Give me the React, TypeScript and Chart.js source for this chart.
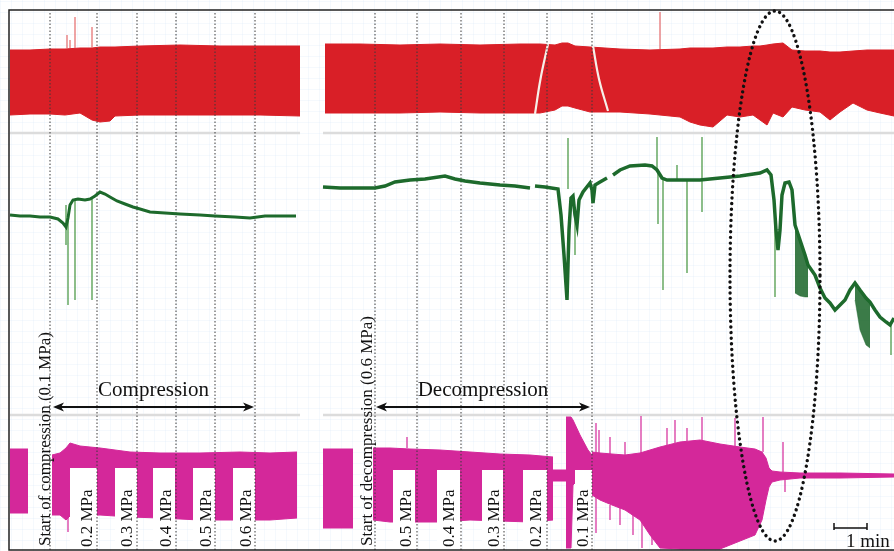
import React, { useEffect, useRef } from 'react';
import { Chart, registerables } from 'chart.js';
Chart.register(...registerables);

// x: time units (1 min = 3.3 units), y: stacked-channel amplitude units
const X_MAX = 89.4;
const Y_MAX = 551;

const RED = '#d91f27';
const GREEN = '#1d6a2c';
const GREEN_SPIKE = 'rgba(70,150,65,0.95)';
const MAGENTA = '#d4289a';

// ---- red channel (top) ----
const redLeftX = [1.0, 3.0, 5.0, 6.5, 8.0, 9.2, 10.0, 11.0, 11.5, 14.0, 18.0, 22.0, 26.0, 30.0];
const redLeftTop = [501, 501, 502, 502, 503, 503, 504, 504, 504, 505, 506, 505, 505, 505];
const redLeftBottom = [436, 437, 437, 436, 438, 431, 429, 430, 435, 436, 436, 436, 436, 435];

const redRightX = [32.5, 36.0, 40.0, 44.0, 48.0, 52.0, 54.0, 55.5, 56.2, 56.8, 57.5, 59.0, 62.0, 65.0, 68.0, 69.0, 70.0, 71.3, 72.7, 74.0, 75.3, 76.0, 76.7, 77.3, 78.3, 79.2, 80.5, 82.0, 83.0, 84.0, 85.3, 86.7, 88.0, 89.4];
const redRightTop = [507, 507, 506, 507, 506, 507, 507, 506, 508, 508, 505, 504, 502, 501, 502, 503, 503, 503, 504, 504, 505, 505, 506, 507, 508, 501, 500, 500, 499, 499, 500, 501, 501, 501];
const redRightBottom = [438, 438, 438, 439, 438, 438, 438, 441, 445, 445, 443, 439, 439, 437, 434, 429, 426, 424, 436, 434, 436, 431, 426, 438, 434, 444, 441, 439, 431, 439, 448, 441, 438, 435];

const redSpikeX = [6.7, 7.0, 7.5, 9.2, 66.0];
const redSpikeBase = [503, 503, 503, 503, 502];
const redSpikeTip = [516, 511, 534, 524, 539];

const whiteArc1X = [53.5, 54.05, 54.8];
const whiteArc1Y = [437, 472, 507];
const whiteArc2X = [59.3, 59.9, 60.8];
const whiteArc2Y = [505, 472, 440];

// ---- green channel (middle) ----
const greenLeftX = [1.0, 2.0, 3.0, 4.0, 5.0, 5.8, 6.3, 6.6, 6.8, 7.0, 7.3, 7.8, 8.5, 9.0, 9.5, 10.0, 10.5, 11.0, 11.7, 12.5, 13.3, 14.0, 15.0, 16.5, 18.0, 20.0, 21.5, 23.5, 25.0, 26.5, 28.0, 29.6];
const greenLeftY = [336, 335, 335, 334, 334, 332, 328, 324, 333, 346, 351, 352, 351, 352, 355, 359, 357, 354, 350, 347, 344, 342, 339, 338, 337, 336, 335, 334, 333, 335, 335, 335];

const greenRightX = [32.3, 34.0, 36.0, 37.5, 38.5, 39.5, 41.0, 42.5, 44.5, 45.5, 46.5, 48.0, 50.0, 51.5, 53.0, 53.2, 53.5, 54.5, 55.8, 56.1, 56.4, 56.7, 56.9, 57.1, 57.3, 57.5, 57.7, 57.9, 58.3, 59.0, 59.2, 59.3, 59.5, 60.0, 60.7, 61.0, 61.3, 62.0, 63.0, 64.5, 65.2, 65.7, 66.2, 66.7, 68.0, 70.0, 72.0, 74.0, 76.0, 76.7, 77.1, 77.4, 77.6, 77.8, 78.0, 78.2, 78.5, 78.9, 79.2, 79.5, 80.0, 80.5, 80.8, 81.5, 82.0, 82.5, 83.0, 83.5, 84.0, 84.5, 85.0, 85.5, 86.0, 86.6, 87.0, 87.5, 88.0, 88.6, 89.0, 89.4];
const greenRightY = [364, 363, 363, 363, 365, 369, 371, 372, 375, 372, 370, 368, 366, 365, 363, null, 365, 364, 362, 336, 296, 251, 321, 353, 355, 336, 326, 351, 359, 368, 361, 348, 366, 369, 373, null, 376, 381, 385, 386, 385, 381, 373, 371, 371, 371, 373, 375, 378, 381, 376, 351, 321, 301, 321, 356, 368, 369, 361, 326, 311, 296, 286, 276, 263, 253, 248, 241, 246, 251, 261, 268, 261, 253, 249, 241, 234, 229, 226, 233];

const greenSpikeX = [6.6, 6.8, 7.5, 9.2, 56.8, 57.5, 65.7, 65.8, 66.3, 67.7, 68.7, 70.2, 70.2, 77.5, 89.1];
const greenSpikeFrom = [346, 333, 351, 352, 362, 336, 381, 381, 373, 371, 371, 371, 371, 340, 226];
const greenSpikeTo = [306, 246, 251, 251, 413, 296, 414, 327, 261, 386, 278, 414, 339, 254, 196];

const greenBurstAX = [79.5, 80.0, 80.5, 80.8];
const greenBurstATop = [326, 311, 296, 286];
const greenBurstABottom = [258, 255, 254, 254];
const greenBurstBX = [85.5, 86.0, 86.6, 87.0];
const greenBurstBTop = [268, 261, 253, 249];
const greenBurstBBottom = [251, 221, 206, 203];

// ---- magenta channel (bottom) ----
const magAX = [1.0, 2.8];
const magATop = [102, 102];
const magABottom = [38, 38];
const magBX = [5.2, 6.0, 6.6, 7.0, 8.0, 10.0, 13.0, 16.0, 20.0, 24.0, 27.0, 29.7];
const magBTop = [96, 98, 103, 108, 105, 103, 99, 98, 98, 99, 98, 99];
const magBBottom = [36, 36, 31, 35, 35, 36, 34, 33, 31, 31, 31, 33];
const magCX = [32.3, 35.3];
const magCTop = [102, 102];
const magCBottom = [23, 23];
const magDX = [37.3, 39.0, 41.0, 44.0, 47.0, 50.0, 53.0, 55.3];
const magDTop = [103, 103, 102, 101, 99, 97, 96, 94];
const magDBottom = [31, 29, 29, 29, 31, 30, 29, 31];
const magEX = [55.3, 56.6];
const magETop = [81, 81];
const magEBottom = [70, 70];
const magFX = [56.6, 57.1, 57.3, 58.0, 58.8, 59.2];
const magFTop = [134, 134, 131, 116, 101, 96];
const magFBottom = [3, 3, 66, 73, 76, 71];
const magGX = [59.2, 60.0, 61.2, 62.5, 64.0, 65.0, 66.0, 68.0, 70.0, 72.0, 74.0, 75.5, 76.2, 76.6, 76.9, 77.2, 78.0, 80.0, 84.0, 89.4];
const magGTop = [99, 98, 97, 96, 98, 101, 104, 109, 111, 107, 104, 102, 99, 93, 83, 80, 79, 78, 78, 77];
const magGBottom = [56, 51, 46, 41, 31, 16, 3, 2, 2, 2, 10, 16, 31, 51, 64, 69, 71, 73, 73, 74];

const magSpikeX = [6.8, 40.7, 59.6, 59.6, 59.9, 61.0, 61.0, 62.0, 62.5, 63.3, 64.1, 64.2, 65.2, 66.7, 67.5, 68.7, 70.2, 73.5, 76.3, 78.3, 78.5];
const magSpikeFrom = [35, 103, 99, 56, 98, 97, 46, 44, 96, 41, 98, 31, 16, 104, 108, 110, 111, 104, 99, 79, 71];
const magSpikeTo = [19, 114, 128, 18, 121, 114, 31, 26, 109, 16, 135, 3, 6, 123, 131, 123, 134, 133, 134, 109, 59];

// pressure-step label boxes and labels
const stepStart = [7.0, 11.5, 15.3, 19.3, 23.3, 39.3, 43.7, 48.2, 52.3, 57.5];
const stepEnd = [9.7, 13.7, 17.5, 21.5, 25.5, 41.5, 46.0, 50.3, 54.7, 59.2];
const stepBoxTop = [83, 83, 83, 83, 83, 81, 81, 81, 81, 81];
const stepLabels = ['0.2 MPa', '0.3 MPa', '0.4 MPa', '0.5 MPa', '0.6 MPa', '0.5 MPa', '0.4 MPa', '0.3 MPa', '0.2 MPa', '0.1 MPa'];
const stepLabelX = [8.8, 12.8, 16.7, 20.7, 24.7, 40.7, 45.0, 49.5, 53.7, 58.4];

const markerX = [5.0, 9.7, 13.7, 17.6, 21.5, 25.5, 37.5, 41.7, 46.1, 50.4, 54.7, 59.2];

const phaseLabels = ['Compression', 'Decompression'];
const phaseFrom = [5.3, 37.6];
const phaseTo = [25.4, 59.0];
const phaseY = 144;
const phaseTextY = 161;

const startLabels = ['Start of compression (0.1 MPa)', 'Start of decompression (0.6 MPa)'];
const startLabelX = [4.6, 36.8];

const separatorY = [418, 136];
const panelStart = [1.0, 32.3];
const panelEnd = [30.0, X_MAX];

const scaleBarX = [83.4, 86.7];
const scaleBarY = 23;

const ellipseCenter = { x: 77.5, y: 275 };
const ellipseRadius = { x: 4.5, y: 265 };

const SERIF = '"Liberation Serif", "Times New Roman", serif';

function pts(xs: number[], ys: (number | null)[]) {
  return xs.map((x, i) => ({ x, y: ys[i] }));
}

function segments(xs: number[], from: number[], to: number[]) {
  const out: any[] = [];
  xs.forEach((x, i) => {
    out.push({ x, y: from[i] }, { x, y: to[i] }, { x, y: null });
  });
  return out;
}

function buildDatasets() {
  const ds: any[] = [];
  const band = (xs: number[], top: number[], bot: number[], color: string, edge = 1) => {
    ds.push({ data: pts(xs, top), borderColor: color, borderWidth: edge, fill: false });
    ds.push({ data: pts(xs, bot), borderColor: color, borderWidth: edge, backgroundColor: color, fill: '-1' });
  };
  // separators
  separatorY.forEach((y) => {
    panelStart.forEach((x0, i) => {
      ds.push({ data: [{ x: x0, y }, { x: panelEnd[i], y }], borderColor: '#dcdcdc', borderWidth: 2.5 });
    });
  });
  // red
  band(redLeftX, redLeftTop, redLeftBottom, RED);
  band(redRightX, redRightTop, redRightBottom, RED);
  ds.push({ data: segments(redSpikeX, redSpikeBase, redSpikeTip), borderColor: '#e56a6a', borderWidth: 1.2 });
  ds.push({ data: pts(whiteArc1X, whiteArc1Y), borderColor: '#f6efe9', borderWidth: 2.2, tension: 0.4 });
  ds.push({ data: pts(whiteArc2X, whiteArc2Y), borderColor: '#f6efe9', borderWidth: 2.2, tension: 0.4 });
  // magenta
  band(magAX, magATop, magABottom, MAGENTA);
  band(magBX, magBTop, magBBottom, MAGENTA);
  band(magCX, magCTop, magCBottom, MAGENTA);
  band(magDX, magDTop, magDBottom, MAGENTA);
  band(magEX, magETop, magEBottom, MAGENTA);
  band(magFX, magFTop, magFBottom, MAGENTA);
  band(magGX, magGTop, magGBottom, MAGENTA);
  ds.push({ data: segments(magSpikeX, magSpikeFrom, magSpikeTo), borderColor: MAGENTA, borderWidth: 1.2 });
  // step label boxes
  stepStart.forEach((x0, i) => {
    ds.push({
      data: [{ x: x0, y: stepBoxTop[i] }, { x: stepEnd[i], y: stepBoxTop[i] }],
      borderWidth: 0, borderColor: 'rgba(0,0,0,0)', backgroundColor: '#ffffff', fill: { value: 0 },
    });
  });
  // dotted markers
  const mk: any[] = [];
  markerX.forEach((x) => mk.push({ x, y: 1 }, { x, y: 540 }, { x, y: null }));
  ds.push({ data: mk, borderColor: '#3a3a3a', borderWidth: 1, borderDash: [1.5, 2] });
  // green
  band(greenBurstAX, greenBurstATop, greenBurstABottom, 'rgba(25,100,40,0.85)', 0.5);
  band(greenBurstBX, greenBurstBTop, greenBurstBBottom, 'rgba(25,100,40,0.85)', 0.5);
  ds.push({ data: segments(greenSpikeX, greenSpikeFrom, greenSpikeTo), borderColor: GREEN_SPIKE, borderWidth: 1.3 });
  ds.push({ data: pts(greenLeftX, greenLeftY), borderColor: GREEN, borderWidth: 3 });
  ds.push({ data: pts(greenRightX, greenRightY), borderColor: GREEN, borderWidth: 3.5 });
  // frame
  ds.push({
    data: [{ x: X_MAX, y: 541 }, { x: 0.9, y: 541 }, { x: 0.9, y: 1 }, { x: X_MAX, y: 1 }],
    borderColor: '#222', borderWidth: 1.5,
  });
  // scale bar
  ds.push({
    data: [
      { x: scaleBarX[0], y: scaleBarY + 5 }, { x: scaleBarX[0], y: scaleBarY - 2 }, { x: null, y: null },
      { x: scaleBarX[0], y: scaleBarY }, { x: scaleBarX[1], y: scaleBarY }, { x: null, y: null },
      { x: scaleBarX[1], y: scaleBarY + 5 }, { x: scaleBarX[1], y: scaleBarY - 2 },
    ],
    borderColor: '#111', borderWidth: 1.5,
  });
  ds.forEach((d, i) => {
    d.order = ds.length - i;
    d.pointRadius = 0;
    if (d.tension === undefined) d.tension = 0;
    if (d.fill === undefined) d.fill = false;
  });
  return ds;
}

const annotations = {
  id: 'annotations',
  beforeDatasetsDraw(chart: any) {
    const { ctx, scales } = chart;
    const xs = scales.x, ys = scales.y;
    ctx.save();
    ctx.strokeStyle = 'rgba(175,212,236,0.13)';
    ctx.lineWidth = 1;
    for (let v = 0; v <= X_MAX; v += 1.1) {
      const p = Math.round(xs.getPixelForValue(v)) + 0.5;
      ctx.beginPath(); ctx.moveTo(0 + p - p, 0); ctx.moveTo(p, 0); ctx.lineTo(p, chart.height); ctx.stroke();
    }
    for (let v = 0; v <= Y_MAX; v += 11) {
      const p = Math.round(ys.getPixelForValue(v)) + 0.5;
      ctx.beginPath(); ctx.moveTo(0, p); ctx.lineTo(chart.width, p); ctx.stroke();
    }
    ctx.restore();
  },
  afterDatasetsDraw(chart: any) {
    const { ctx, scales } = chart;
    const xs = scales.x, ys = scales.y;
    const X = (v: number) => xs.getPixelForValue(v);
    const Y = (v: number) => ys.getPixelForValue(v);
    ctx.save();
    // phase arrows + labels
    ctx.fillStyle = '#111';
    ctx.strokeStyle = '#111';
    ctx.font = `21px ${SERIF}`;
    ctx.textAlign = 'center';
    ctx.textBaseline = 'middle';
    phaseLabels.forEach((lab, i) => {
      const x0 = X(phaseFrom[i]), x1 = X(phaseTo[i]), y = Y(phaseY);
      ctx.lineWidth = 2;
      ctx.beginPath(); ctx.moveTo(x0 + 4, y); ctx.lineTo(x1 - 4, y); ctx.stroke();
      [[x0, 1], [x1, -1]].forEach(([xp, d]) => {
        ctx.beginPath();
        ctx.moveTo(xp, y);
        ctx.lineTo(xp + d * 11, y - 4.5);
        ctx.lineTo(xp + d * 8, y);
        ctx.lineTo(xp + d * 11, y + 4.5);
        ctx.closePath();
        ctx.fill();
      });
      ctx.fillText(lab, (x0 + x1) / 2, Y(phaseTextY));
    });
    // rotated labels
    const rot = (text: string, x: number, y: number, size: number) => {
      ctx.save();
      ctx.translate(x, y);
      ctx.rotate(-Math.PI / 2);
      ctx.font = `${size}px ${SERIF}`;
      ctx.textAlign = 'left';
      ctx.textBaseline = 'middle';
      ctx.fillText(text, 0, 0);
      ctx.restore();
    };
    startLabels.forEach((t, i) => rot(t, X(startLabelX[i]), Y(5), 17));
    stepLabels.forEach((t, i) => rot(t, X(stepLabelX[i]), Y(4), 17));
    // scale label
    ctx.font = `19px ${SERIF}`;
    ctx.textAlign = 'left';
    ctx.textBaseline = 'alphabetic';
    ctx.fillText('1 min', X(84.6), Y(4));
    // dotted ellipse
    ctx.beginPath();
    ctx.ellipse(X(ellipseCenter.x), Y(ellipseCenter.y),
      Math.abs(X(ellipseCenter.x + ellipseRadius.x) - X(ellipseCenter.x)),
      Math.abs(Y(ellipseCenter.y + ellipseRadius.y) - Y(ellipseCenter.y)), 0, 0, Math.PI * 2);
    ctx.setLineDash([0.01, 5.6]);
    ctx.lineCap = 'round';
    ctx.lineWidth = 3.4;
    ctx.strokeStyle = '#111';
    ctx.stroke();
    ctx.restore();
  },
};

export default function App() {
  const ref = useRef<HTMLCanvasElement | null>(null);
  useEffect(() => {
    if (!ref.current) return;
    const chart = new Chart(ref.current, {
      type: 'line',
      data: { datasets: buildDatasets() },
      options: {
        animation: false,
        responsive: true,
        maintainAspectRatio: false,
        devicePixelRatio: 1,
        layout: { padding: 0 },
        plugins: { legend: { display: false }, tooltip: { enabled: false } },
        events: [],
        scales: {
          x: { type: 'linear', min: 0, max: X_MAX, display: false },
          y: { type: 'linear', min: 0, max: Y_MAX, display: false },
        },
        elements: { point: { radius: 0 } },
      },
      plugins: [annotations],
    } as any);
    return () => chart.destroy();
  }, []);
  return (
    <div style={{ position: 'fixed', left: 0, top: 0, width: 894, height: 551, background: '#ffffff' }}>
      <canvas ref={ref} />
    </div>
  );
}
